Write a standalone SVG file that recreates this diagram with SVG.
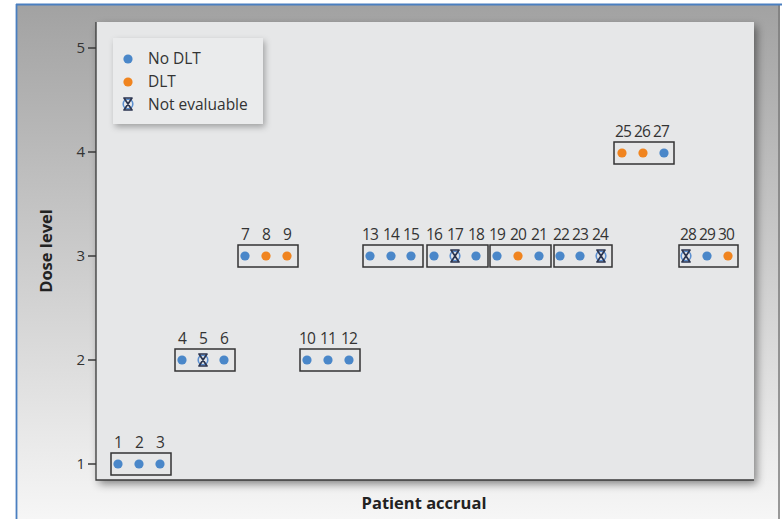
<svg xmlns="http://www.w3.org/2000/svg" xmlns:xlink="http://www.w3.org/1999/xlink" width="782" height="519" viewBox="0 0 782 519">
<defs>
<linearGradient id="bg" x1="0" y1="0" x2="0" y2="1">
<stop offset="0" stop-color="#a2a2a2"/>
<stop offset="0.45" stop-color="#c8c8c8"/>
<stop offset="0.88" stop-color="#ececec"/>
<stop offset="1" stop-color="#f6f6f6"/>
</linearGradient>
<filter id="sh" x="-10%" y="-10%" width="130%" height="130%">
<feDropShadow dx="3" dy="4" stdDeviation="4" flood-color="#000" flood-opacity="0.45"/>
</filter>
<filter id="sh2" x="-10%" y="-10%" width="130%" height="140%">
<feDropShadow dx="2" dy="3" stdDeviation="3" flood-color="#000" flood-opacity="0.3"/>
</filter>
<g id="b"><circle r="4.6" fill="#4a87c9"/></g>
<g id="o"><circle r="4.6" fill="#f0841f"/></g>
<g id="x"><circle r="4.8" fill="none" stroke="#5b8fd0" stroke-width="1.6"/><path d="M-4,-6 H4 L-4,6 H4 Z" fill="none" stroke="#2b3550" stroke-width="1.7" stroke-linejoin="round"/></g>
</defs>
<style>
.t{font-family:"Open Sans","Noto Sans","Liberation Sans",sans-serif;font-size:15.5px;fill:#333}
.k{font-family:"Open Sans","Noto Sans","Liberation Sans",sans-serif;font-size:15px;fill:#333;text-anchor:end}
.n{font-family:"Open Sans","Noto Sans","Liberation Sans",sans-serif;font-size:15.5px;fill:#333;text-anchor:middle;letter-spacing:-0.8px}
.ax{font-family:"Open Sans","Noto Sans","Liberation Sans",sans-serif;font-size:16.5px;font-weight:700;fill:#222;text-anchor:middle}
.bx{fill:none;stroke:#333;stroke-width:1.5}
.axl{stroke:#3a3a3a;stroke-width:1.3;fill:none}
</style>
<rect x="0" y="0" width="782" height="519" fill="#ffffff"/>
<rect x="17" y="5" width="763" height="514" fill="url(#bg)"/>
<line x1="779" y1="5" x2="779" y2="519" stroke="#7a7a7a" stroke-width="1.5"/>
<line x1="16" y1="4.5" x2="782" y2="4.5" stroke="#4a7fc0" stroke-width="1.8"/>
<line x1="16.5" y1="4" x2="16.5" y2="519" stroke="#4a7fc0" stroke-width="1.8"/>
<g id="panel">
<rect x="96" y="22" width="658" height="458" fill="#e6e7e8" filter="url(#sh)"/>
<path class="axl" d="M96,22 V480 H754"/>
<path class="axl" d="M88,48 H96 M88,152 H96 M88,256 H96 M88,360 H96 M88,464 H96"/>
<text class="k" x="85" y="53">5</text>
<text class="k" x="85" y="157">4</text>
<text class="k" x="85" y="261">3</text>
<text class="k" x="85" y="365">2</text>
<text class="k" x="85" y="469">1</text>
<text class="ax" transform="translate(52,251) rotate(-90)">Dose level</text>
<text class="ax" x="424" y="509">Patient accrual</text>
</g>
<g id="legend">
<rect x="113" y="38" width="150" height="86" fill="#eaebec" filter="url(#sh2)"/>
<use xlink:href="#b" x="128" y="59"/>
<text class="t" x="148" y="64">No DLT</text>
<use xlink:href="#o" x="128" y="82"/>
<text class="t" x="148" y="87">DLT</text>
<use xlink:href="#x" x="128" y="104"/>
<text class="t" x="148" y="110">Not evaluable</text>
</g>
<g id="connectors"></g>
<g id="cohort1">
<rect class="bx" x="111" y="453" width="60" height="22"/>
<use xlink:href="#b" x="118" y="464"/><use xlink:href="#b" x="139" y="464"/><use xlink:href="#b" x="160" y="464"/>
<text class="n" x="118" y="448">1</text><text class="n" x="139" y="448">2</text><text class="n" x="160" y="448">3</text>
</g>
<g id="cohort2">
<rect class="bx" x="175" y="349" width="60" height="22"/>
<use xlink:href="#b" x="182" y="360"/><use xlink:href="#x" x="203" y="360"/><use xlink:href="#b" x="224" y="360"/>
<text class="n" x="182" y="344">4</text><text class="n" x="203" y="344">5</text><text class="n" x="224" y="344">6</text>
</g>
<g id="cohort3">
<rect class="bx" x="238" y="245" width="60" height="22"/>
<use xlink:href="#b" x="245" y="256"/><use xlink:href="#o" x="266" y="256"/><use xlink:href="#o" x="287" y="256"/>
<text class="n" x="245" y="240">7</text><text class="n" x="266" y="240">8</text><text class="n" x="287" y="240">9</text>
</g>
<g id="cohort4">
<rect class="bx" x="300" y="349" width="60" height="22"/>
<use xlink:href="#b" x="307" y="360"/><use xlink:href="#b" x="328" y="360"/><use xlink:href="#b" x="349" y="360"/>
<text class="n" x="307" y="344">10</text><text class="n" x="328" y="344">11</text><text class="n" x="349" y="344">12</text>
</g>
<g id="cohort5">
<rect class="bx" x="363" y="245" width="60" height="22"/>
<use xlink:href="#b" x="370" y="256"/><use xlink:href="#b" x="391" y="256"/><use xlink:href="#b" x="411" y="256"/>
<text class="n" x="370" y="240">13</text><text class="n" x="391" y="240">14</text><text class="n" x="411" y="240">15</text>
</g>
<g id="cohort6">
<rect class="bx" x="427" y="245" width="61" height="22"/>
<use xlink:href="#b" x="434" y="256"/><use xlink:href="#x" x="455" y="256"/><use xlink:href="#b" x="476" y="256"/>
<text class="n" x="434" y="240">16</text><text class="n" x="455" y="240">17</text><text class="n" x="476" y="240">18</text>
</g>
<g id="cohort7">
<rect class="bx" x="490" y="245" width="61" height="22"/>
<use xlink:href="#b" x="497" y="256"/><use xlink:href="#o" x="518" y="256"/><use xlink:href="#b" x="539" y="256"/>
<text class="n" x="497" y="240">19</text><text class="n" x="518" y="240">20</text><text class="n" x="539" y="240">21</text>
</g>
<g id="cohort8">
<rect class="bx" x="554" y="245" width="58" height="22"/>
<use xlink:href="#b" x="560" y="256"/><use xlink:href="#b" x="580" y="256"/><use xlink:href="#x" x="601" y="256"/>
<text class="n" x="561" y="240">22</text><text class="n" x="580" y="240">23</text><text class="n" x="600" y="240">24</text>
</g>
<g id="cohort9">
<rect class="bx" x="614" y="142" width="60" height="22"/>
<use xlink:href="#o" x="622" y="153"/><use xlink:href="#o" x="643" y="153"/><use xlink:href="#b" x="664" y="153"/>
<text class="n" x="623" y="137">25</text><text class="n" x="642" y="137">26</text><text class="n" x="661" y="137">27</text>
</g>
<g id="cohort10">
<rect class="bx" x="679" y="245" width="59" height="22"/>
<use xlink:href="#x" x="686" y="256"/><use xlink:href="#b" x="707" y="256"/><use xlink:href="#o" x="728" y="256"/>
<text class="n" x="688" y="240">28</text><text class="n" x="707" y="240">29</text><text class="n" x="726" y="240">30</text>
</g>
</svg>
